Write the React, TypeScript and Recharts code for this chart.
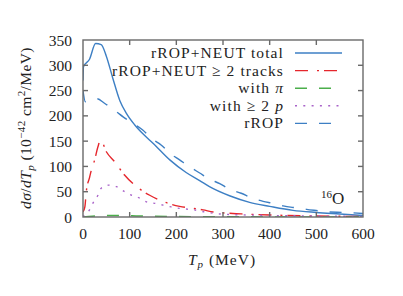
import React from 'react';
import { ComposedChart, Line, XAxis, YAxis, Legend } from 'recharts';

// T_p grid (MeV) and cross sections (1e-42 cm^2/MeV)
const tpTotal = [0, 1, 14, 27, 39, 50, 64, 79, 93, 111, 130, 150, 186, 221, 250, 271, 314, 357, 400, 450, 500, 550, 600];
const total = [270, 297, 312, 343, 341, 318, 274, 230, 205, 182, 163, 146, 113, 88, 72, 60, 42, 29, 21, 13, 9, 6, 3];

const tpTracks = [0, 4, 7, 14, 18, 25, 32, 38, 50, 68, 79, 89, 111, 125, 143, 168, 186, 207, 236, 257, 279, 321, 343, 400, 500, 600];
const tracks = [10, 20, 50, 78, 93, 113, 139, 152, 129, 109, 95, 83, 63, 53, 43, 32, 26, 21, 17, 14, 10, 7, 6, 4, 2, 1];

const tpPion = [0, 20, 50, 80, 120, 200, 300, 400, 600];
const pion = [0, 1.5, 3, 3, 2, 1, 0.5, 0.3, 0.1];

const tpProtons = [0, 4, 14, 21, 32, 39, 55, 72, 89, 104, 122, 136, 154, 189, 207, 239, 261, 293, 350, 400, 500, 600];
const protons = [0, 4, 14, 27, 43, 57, 63, 60, 50, 43, 37, 30, 27, 20, 17, 14, 10, 6, 4, 3, 2, 1];

const tpRrop = [0, 5, 15, 30, 46, 72, 86, 107, 128, 147, 168, 186, 207, 229, 250, 271, 293, 314, 339, 361, 386, 407, 429, 457, 479, 507, 524, 561, 600];
const rrop = [250, 228, 232, 234, 225, 208, 198, 185, 172, 155, 142, 126, 113, 99, 87, 75, 66, 55, 47, 38, 31, 27, 22, 18, 15, 12, 10, 9, 7];

const xTicks = [0, 100, 200, 300, 400, 500, 600];
const yTicks = [0, 50, 100, 150, 200, 250, 300, 350];
const X_MAX = 600;
const Y_MAX = 350;

const zip = (xs: number[], ys: number[]) => xs.map((x, i) => ({ x, y: ys[i] }));

const series = [
  { key: 'total', data: zip(tpTotal, total), color: '#3d7fc4', dash: undefined as string | undefined },
  { key: 'tracks', data: zip(tpTracks, tracks), color: '#e5262c', dash: '13 9 2 5' },
  { key: 'pion', data: zip(tpPion, pion), color: '#4bae4b', dash: '12 12' },
  { key: 'protons', data: zip(tpProtons, protons), color: '#a963c9', dash: '2 6.3' },
  { key: 'rrop', data: zip(tpRrop, rrop), color: '#3d7fc4', dash: '12 12' },
];

const FONT = '"Liberation Serif", "Times New Roman", serif';
const AXIS = '#6a6a6a';
const TEXT = '#222';
const W = 403;
const H = 296;
const MARGIN = { top: 40, right: 40, left: 0, bottom: 0 };
const Y_AXIS_W = 83;
const X_AXIS_H = 79;
// plot box implied by the margins/axis sizes above (used for the frame only)
const PX0 = MARGIN.left + Y_AXIS_W;
const PY0 = MARGIN.top;
const PW = W - MARGIN.right - PX0;
const PH = H - X_AXIS_H - MARGIN.bottom - PY0;
const sx = (v: number) => PX0 + (v / X_MAX) * PW;
const sy = (v: number) => PY0 + PH - (v / Y_MAX) * PH;
const TICK = 5;

const legendLabels: React.ReactNode[] = [
  'rROP+NEUT total',
  'rROP+NEUT \u2265 2 tracks',
  <>
    {'with '}
    <tspan fontStyle="italic">{'\u03c0'}</tspan>
  </>,
  <>
    {'with \u2265 2 '}
    <tspan fontStyle="italic">p</tspan>
  </>,
  'rROP',
];

function LegendBox() {
  return (
    <svg width={W} height={H} style={{ display: 'block' }}>
      {series.map((s, i) => {
        const y = 53 + i * 17.6;
        return (
          <g key={s.key}>
            <text x={284} y={y + 5} textAnchor="end" fontFamily={FONT} fontSize={15.5} letterSpacing={1.1} fill={TEXT}>
              {legendLabels[i]}
            </text>
            <line x1={295} x2={342} y1={y} y2={y} stroke={s.color} strokeWidth={1.4} strokeDasharray={s.dash} />
          </g>
        );
      })}
    </svg>
  );
}

function Frame() {
  return (
    <g stroke={AXIS} strokeWidth={1.4} fill="none">
      <rect x={sx(0)} y={sy(Y_MAX)} width={PW} height={PH} />
      {xTicks.slice(1, -1).map((t) => (
        <g key={'x' + t}>
          <line x1={sx(t)} x2={sx(t)} y1={sy(0)} y2={sy(0) - TICK} />
          <line x1={sx(t)} x2={sx(t)} y1={sy(Y_MAX)} y2={sy(Y_MAX) + TICK} />
        </g>
      ))}
      {yTicks.slice(1, -1).map((t) => (
        <g key={'y' + t}>
          <line x1={sx(0)} x2={sx(0) + TICK} y1={sy(t)} y2={sy(t)} />
          <line x1={sx(X_MAX)} x2={sx(X_MAX) - TICK} y1={sy(t)} y2={sy(t)} />
        </g>
      ))}
    </g>
  );
}

export default function App() {
  const tickStyle = { fontFamily: FONT, fontSize: 15.5, fill: TEXT };
  return (
    <div style={{ position: 'absolute', left: 0, top: 0, width: W, height: H, background: '#fff' }}>
      <ComposedChart width={W} height={H} margin={MARGIN}>
        <XAxis
          dataKey="x"
          type="number"
          domain={[0, X_MAX]}
          ticks={xTicks}
          allowDataOverflow
          height={X_AXIS_H}
          tickSize={0}
          tickMargin={11}
          tickLine={false}
          axisLine={false}
          tick={tickStyle}
        />
        <YAxis
          type="number"
          domain={[0, Y_MAX]}
          ticks={yTicks}
          allowDataOverflow
          width={Y_AXIS_W}
          tickSize={0}
          tickMargin={11}
          tickLine={false}
          axisLine={false}
          tick={tickStyle}
        />
        {series.map((s) => (
          <Line
            key={s.key}
            data={s.data}
            dataKey="y"
            name={s.key}
            type="monotone"
            stroke={s.color}
            strokeWidth={1.4}
            strokeDasharray={s.dash}
            dot={false}
            activeDot={false}
            isAnimationActive={false}
          />
        ))}
        <Legend
          layout="vertical"
          align="center"
          verticalAlign="middle"
          content={() => <LegendBox />}
          wrapperStyle={{ position: 'absolute', left: 0, top: 0, width: W, height: H, pointerEvents: 'none' }}
        />
      </ComposedChart>
      <svg
        width={W}
        height={H}
        style={{ position: 'absolute', left: 0, top: 0, pointerEvents: 'none' }}
        fontFamily={FONT}
        fontSize={15.5}
        fill={TEXT}
      >
        <Frame />
        <text transform="translate(31,128) rotate(-90)" textAnchor="middle" letterSpacing={0.4}>
          <tspan fontStyle="italic">d{'\u03c3'}</tspan>/<tspan fontStyle="italic">dT</tspan>
          <tspan fontSize={11} dy={3} fontStyle="italic">p</tspan>
          <tspan dy={-3}> (10</tspan>
          <tspan fontSize={11} dy={-6}>{'\u221242'}</tspan>
          <tspan dy={6}> cm</tspan>
          <tspan fontSize={11} dy={-6}>2</tspan>
          <tspan dy={6}>/MeV)</tspan>
        </text>
        <text x={222} y={265} textAnchor="middle" letterSpacing={1}>
          <tspan fontStyle="italic">T</tspan>
          <tspan fontSize={11} dy={3} fontStyle="italic">p</tspan>
          <tspan dy={-3}> (MeV)</tspan>
        </text>
        <text x={321} y={204}>
          <tspan fontSize={11} dy={-6}>16</tspan>
          <tspan dy={6} fontSize={17}>O</tspan>
        </text>
      </svg>
    </div>
  );
}
